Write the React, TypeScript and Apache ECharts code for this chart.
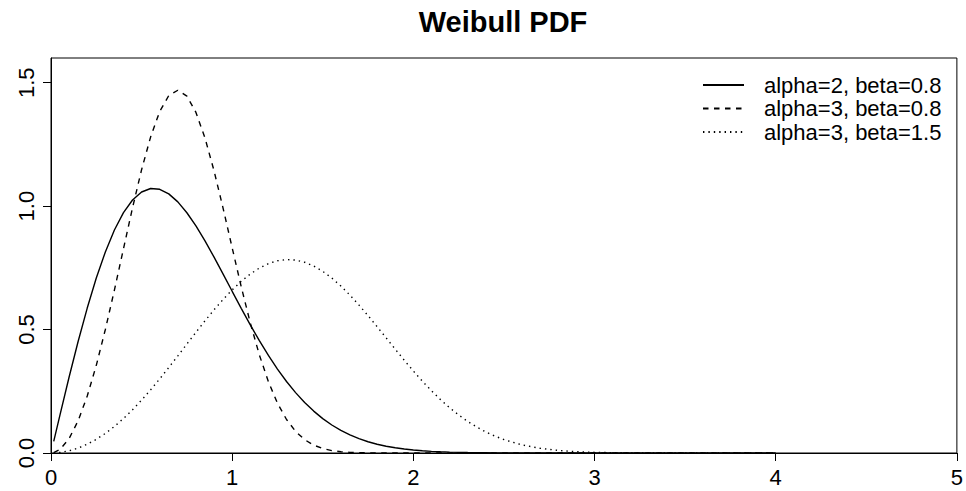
import React, { useEffect, useRef } from "react";
import * as echarts from "echarts";

const xs = [
  0.015, 0.05, 0.1, 0.15, 0.2, 0.25, 0.3, 0.35, 0.4, 0.45, 0.5, 0.55, 0.6, 0.65, 0.7, 0.75, 0.8, 0.85, 0.9, 0.95,
  1.0, 1.05, 1.1, 1.15, 1.2, 1.25, 1.3, 1.35, 1.4, 1.45, 1.5, 1.55, 1.6, 1.65, 1.7, 1.75, 1.8, 1.85, 1.9, 1.95,
  2.0, 2.05, 2.1, 2.15, 2.2, 2.25, 2.3, 2.35, 2.4, 2.45, 2.5, 2.6, 2.7, 2.8, 2.9, 3.0, 3.1, 3.2, 3.3, 3.4,
  3.5, 3.6, 3.7, 3.8, 3.9, 4.0,
];

const alpha2beta08 = [
  0.0469, 0.1556, 0.3077, 0.4526, 0.5871, 0.7086, 0.8145, 0.9032, 0.9735, 1.0248, 1.0572, 1.0714, 1.0683, 1.0497,
  1.0173, 0.9732, 0.9197, 0.859, 0.7933, 0.7246, 0.655, 0.5861, 0.519, 0.4551, 0.3953, 0.34, 0.2897, 0.2446,
  0.2046, 0.1697, 0.1393, 0.1135, 0.0916, 0.0733, 0.0581, 0.0457, 0.0356, 0.0275, 0.0211, 0.016, 0.0121, 0.009,
  0.0067, 0.0049, 0.0036, 0.0026, 0.0018, 0.0013, 0.0009, 0.0006, 0.0004, 0.0002, 0.0001, 0.0001, 0, 0, 0, 0,
  0, 0, 0, 0, 0, 0, 0, 0,
];

const alpha3beta08 = [
  0.0013, 0.0146, 0.0585, 0.131, 0.2307, 0.3552, 0.5003, 0.6601, 0.8273, 0.9931, 1.1475, 1.2807, 1.3834, 1.4479,
  1.4693, 1.4458, 1.3795, 1.2757, 1.1428, 0.9911, 0.8312, 0.6734, 0.5268, 0.3975, 0.2887, 0.2018, 0.1356, 0.0874,
  0.054, 0.0319, 0.0181, 0.0098, 0.005, 0.0025, 0.0011, 0.0005, 0.0002, 0.0001, 0, 0, 0, 0, 0, 0, 0, 0, 0, 0, 0,
  0, 0, 0, 0, 0, 0, 0, 0, 0, 0, 0, 0, 0, 0, 0, 0, 0,
];

const alpha3beta15 = [
  0.0002, 0.0022, 0.0089, 0.02, 0.0355, 0.0553, 0.0794, 0.1075, 0.1396, 0.1752, 0.2141, 0.256, 0.3002, 0.3462,
  0.3935, 0.4413, 0.4888, 0.5354, 0.5801, 0.6222, 0.6609, 0.6954, 0.725, 0.7491, 0.7671, 0.7786, 0.7835, 0.7815,
  0.7727, 0.7574, 0.7358, 0.7085, 0.6761, 0.6394, 0.5991, 0.5563, 0.5116, 0.4661, 0.4205, 0.3756, 0.3322, 0.2909,
  0.2521, 0.2162, 0.1834, 0.154, 0.1279, 0.105, 0.0852, 0.0684, 0.0542, 0.0329, 0.019, 0.0104, 0.0054, 0.0027,
  0.0013, 0.0006, 0.0002, 0.0001, 0, 0, 0, 0, 0, 0,
];

const seriesNames = ["alpha=2, beta=0.8", "alpha=3, beta=0.8", "alpha=3, beta=1.5"];
const xTicks = [0, 1, 2, 3, 4, 5];
const yTicks = [0, 0.5, 1.0, 1.5];

const FONT = "Liberation Sans, Arial, Helvetica, sans-serif";

export default function App() {
  const ref = useRef<HTMLDivElement>(null);
  useEffect(() => {
    if (!ref.current) return;
    const chart = echarts.init(ref.current, undefined, { renderer: "svg" });
    const pairs = (ys: number[]) => xs.map((x, i) => [x, ys[i]]);
    const dashes: any[] = ["solid", [5.5, 5.5], [1.4, 4]];
    const datas = [alpha2beta08, alpha3beta08, alpha3beta15];
    chart.setOption({
      animation: false,
      backgroundColor: "#ffffff",
      title: {
        text: "Weibull PDF",
        left: 498,
        textAlign: "center",
        top: 2,
        textStyle: { fontFamily: FONT, fontSize: 29, fontWeight: "bold", color: "#000" },
      },
      grid: {
        left: 51,
        right: 8,
        top: 58,
        bottom: 38,
        show: true,
        borderColor: "#000",
        borderWidth: 1,
        backgroundColor: "transparent",
      },
      legend: {
        orient: "vertical",
        left: 702,
        top: 74,
        padding: 0,
        itemWidth: 41,
        itemHeight: 14,
        itemGap: 1.5,
        align: "left",
        data: seriesNames,
        itemStyle: { opacity: 0 },
        textStyle: {
          fontFamily: FONT,
          fontSize: 22,
          color: "#000",
          lineHeight: 20,
          padding: [0, 0, 0, 15],
        },
      },
      xAxis: {
        type: "value",
        min: 0,
        max: 5,
        interval: 1,
        splitLine: { show: false },
        axisLine: { show: true, onZero: false, lineStyle: { color: "#000", width: 1 } },
        axisTick: { show: true, length: 8, lineStyle: { color: "#000" }, customValues: xTicks },
        axisLabel: {
          customValues: xTicks,
          margin: 13,
          fontFamily: FONT,
          fontSize: 22,
          color: "#000",
          formatter: (v: number) => String(v),
        },
      },
      yAxis: {
        type: "value",
        min: 0,
        max: 1.6,
        interval: 0.5,
        splitLine: { show: false },
        axisLine: { show: true, onZero: false, lineStyle: { color: "#000", width: 1 } },
        axisTick: { show: true, length: 8, lineStyle: { color: "#000" }, customValues: yTicks },
        axisLabel: {
          customValues: yTicks,
          rotate: 90,
          margin: 14,
          fontFamily: FONT,
          fontSize: 22,
          color: "#000",
          formatter: (v: number) => v.toFixed(1),
        },
      },
      series: datas.map((d, i) => ({
        name: seriesNames[i],
        type: "line",
        data: pairs(d),
        showSymbol: false,
        symbol: "none",
        smooth: false,
        clip: true,
        lineStyle: { color: "#000", width: 1.4, type: dashes[i] },
        itemStyle: { color: "#000" },
      })),
    });
    return () => chart.dispose();
  }, []);
  return <div ref={ref} style={{ width: 966, height: 491, position: "absolute", left: 0, top: 0 }} />;
}
